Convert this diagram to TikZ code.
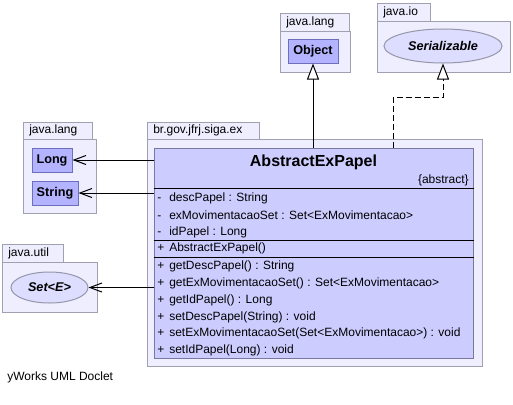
\documentclass[tikz,border=0pt]{standalone}
\usepackage{fontspec}
\setmainfont{Liberation Sans}
\usepackage{xcolor}
\usetikzlibrary{arrows.meta}
\usetikzlibrary{shapes}
\definecolor{pkgfill}{RGB}{238,238,255}
\definecolor{pkgline}{RGB}{160,160,176}
\definecolor{clsfill}{RGB}{204,204,255}
\definecolor{clsline}{RGB}{120,120,160}
\definecolor{reffill}{RGB}{179,179,255}
\definecolor{refline}{RGB}{110,110,190}
\definecolor{ifcfill}{RGB}{221,221,255}
\definecolor{ifcline}{RGB}{150,150,170}
\tikzset{pkg/.style={draw=pkgline, fill=pkgfill, line width=0.75pt},
 pkgname/.style={anchor=west, inner sep=0pt, font=\fontsize{9}{10}\selectfont},
 refclass/.style={draw=refline, fill=reffill, line width=0.75pt, inner sep=0pt,
   font=\fontsize{9.5}{11}\selectfont\bfseries},
 iface/.style={ellipse, draw=ifcline, fill=ifcfill, line width=0.75pt, inner sep=0pt,
   font=\fontsize{9.5}{11}\selectfont\bfseries\itshape},
 cls/.style={draw=clsline, fill=clsfill, line width=0.75pt, inner sep=0pt},
 member/.style={anchor=west, inner sep=0pt, font=\fontsize{9}{10}\selectfont},
 sep/.style={line width=0.75pt},
 extends/.style={line width=0.75pt, -{Triangle[fill=white, length=12pt, width=9pt]}},
 implements/.style={extends, dash pattern=on 4.5pt off 2.25pt},
 uses/.style={line width=0.75pt, -{Straight Barb[length=9pt, width=6.75pt]}},
 }
\newcommand{\vis}[1]{\makebox[9pt][l]{#1}}

\begin{document}
\begin{tikzpicture}[x=0.75pt, y=-0.75pt]
        \useasboundingbox[fill=white] (0,0) rectangle (513,404);
        % packages
        \draw[pkg] (280,13) rectangle (349,31);
        \draw[pkg] (280,31) rectangle (350,72);
        \node[pkgname] (tabObj) at (286,22) {java.lang};
        \draw[pkg] (377,3) rectangle (430,21);
        \draw[pkg] (377,21) rectangle (510,72);
        \node[pkgname] (tabIo) at (383,12) {java.io};
        \draw[pkg] (23,122) rectangle (92,139);
        \draw[pkg] (23,139) rectangle (96,213);
        \node[pkgname] (tabLang) at (29,130.5) {java.lang};
        \draw[pkg] (147,122) rectangle (259,139);
        \draw[pkg] (147,139) rectangle (482,366);
        \node[pkgname] (tabEx) at (153,130.5) {br.gov.jfrj.siga.ex};
        \draw[pkg] (2,244) rectangle (63,262);
        \draw[pkg] (2,262) rectangle (97,312);
        \node[pkgname] (tabUtil) at (8,253) {java.util};
        % referenced types
        \node[refclass, minimum width=37.5pt, minimum height=18pt] (obj) at (313,51) {Object};
        \node[iface, minimum width=88.5pt, minimum height=25.5pt] (ser) at (443,46) {Serializable};
        \node[refclass, minimum width=30pt, minimum height=18pt] (long) at (52,160) {Long};
        \node[refclass, minimum width=34.5pt, minimum height=18pt] (string) at (55,193) {String};
        \node[iface, minimum width=57.75pt, minimum height=23.25pt] (set) at (49.5,287.5) {Set<E>};
        % class
        \node[cls, minimum width=239.25pt, minimum height=157.5pt] (cls) at (313.5,253) {};
        \node[font=\fontsize{12}{14}\selectfont\bfseries, inner sep=0pt] (title) at (313.5,162) {AbstractExPapel};
        \node[member, anchor=east] (abstr) at (469,180) {\{abstract\}};
        \draw[sep] (cls.west |- 0,188) -- (cls.east |- 0,188);
        \node[member] (attrA) at (157,198) {\vis{-}descPapel : String};
        \node[member] (attrB) at (157,215) {\vis{-}exMovimentacaoSet : Set<ExMovimentacao>};
        \node[member] (attrC) at (157,232) {\vis{-}idPapel : Long};
        \draw[sep] (cls.west |- 0,240) -- (cls.east |- 0,240);
        \node[member] (ctor) at (157,248) {\vis{+}AbstractExPapel()};
        \draw[sep] (cls.west |- 0,257) -- (cls.east |- 0,257);
        \node[member] (opA) at (157,266) {\vis{+}getDescPapel() : String};
        \node[member] (opB) at (157,283) {\vis{+}getExMovimentacaoSet() : Set<ExMovimentacao>};
        \node[member] (opC) at (157,300) {\vis{+}getIdPapel() : Long};
        \node[member] (opD) at (157,317) {\vis{+}setDescPapel(String) : void};
        \node[member] (opE) at (157,333.5) {\vis{+}setExMovimentacaoSet(Set<ExMovimentacao>) : void};
        \node[member] (opF) at (157,350) {\vis{+}setIdPapel(Long) : void};
        % relations
        \coordinate (bend) at (393,97);
        \draw[extends] (cls.north -| obj.south) -- (obj.south);
        \draw[implements] (cls.north -| bend) -- (bend) -| (ser.south);
        \draw[uses] (cls.west |- long) -- (long.east);
        \draw[uses] (cls.west |- string) -- (string.east);
        \draw[uses] (cls.west |- set) -- (set.east);
        \node[anchor=west, inner sep=0pt, font=\fontsize{9}{10}\selectfont] (doclet) at (7,377) {yWorks UML Doclet};
    \end{tikzpicture}
\end{document}
